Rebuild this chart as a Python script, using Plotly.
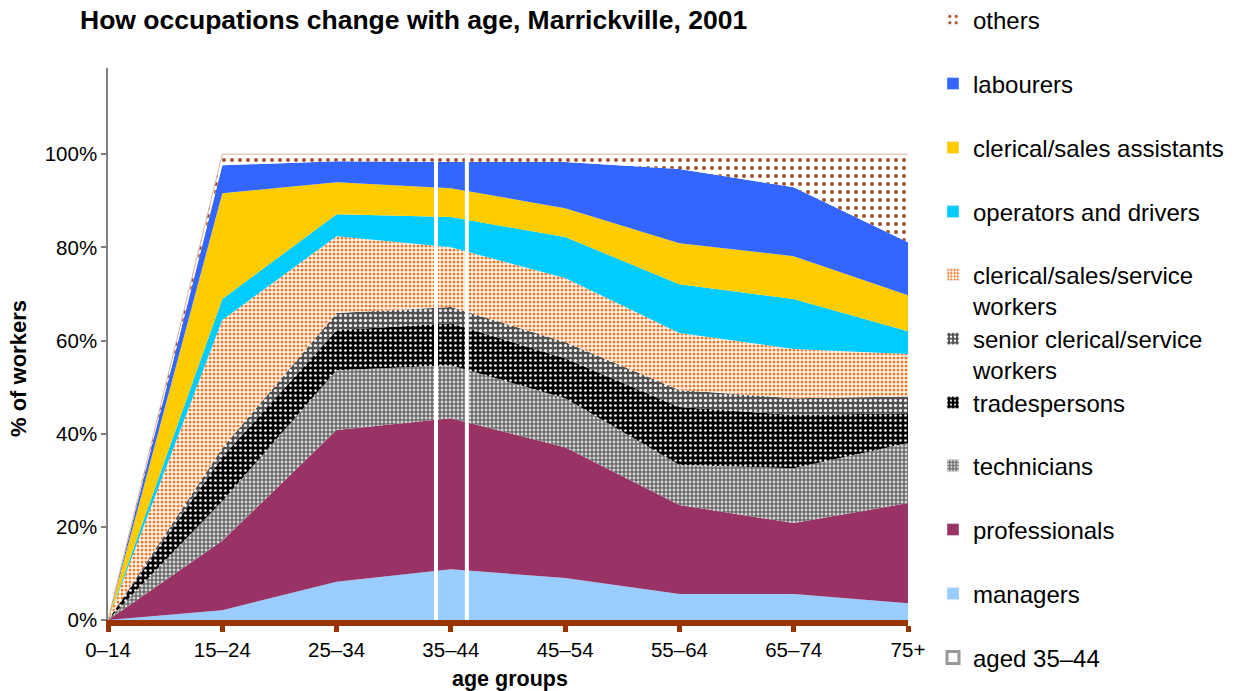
import plotly.graph_objects as go

# ---------------- data (percent of workers in each age group) ----------------
age_groups = ["0–14", "15–24", "25–34", "35–44", "45–54", "55–64", "65–74", "75+"]

managers = [0, 2.1, 8.2, 10.9, 9.0, 5.6, 5.6, 3.6]
professionals = [0, 14.9, 32.6, 32.4, 28.1, 19.1, 15.2, 21.5]
technicians = [0, 8.5, 12.8, 11.4, 10.5, 8.6, 11.8, 12.9]
tradespersons = [0, 9.5, 8.6, 9.0, 8.6, 12.4, 11.4, 6.4]
senior_clerical = [0, 1.9, 3.7, 3.5, 3.5, 3.7, 3.6, 3.6]
clerical_service = [0, 27.5, 16.5, 12.8, 13.7, 12.2, 10.6, 9.1]
operators = [0, 4.5, 4.7, 6.5, 8.8, 10.5, 10.7, 4.9]
clerical_assist = [0, 22.7, 6.9, 6.2, 6.2, 8.8, 9.2, 7.7]
labourers = [0, 6.0, 4.5, 5.6, 9.9, 15.9, 14.8, 11.4]
others = [0, 2.4, 1.5, 1.7, 1.7, 3.2, 7.1, 18.9]

y_tick_vals = [0, 20, 40, 60, 80, 100]
y_tick_text = ["0%", "20%", "40%", "60%", "80%", "100%"]
highlight_group = "35–44"

# ---------------- styles ----------------
FONT = "Liberation Sans, Arial, Helvetica, sans-serif"
W, H = 1234, 691
L, R, T, B = 108, 326, 68, 71

series = [
    # name, values, solid color, pattern dict or None, legend label
    ("managers", managers, "#99CCFF", None, "managers"),
    ("professionals", professionals, "#993366", None, "professionals"),
    ("technicians", technicians, "#888888",
     dict(shape=".", bgcolor="#6a6a6a", fgcolor="#d8d8d8", size=4, solidity=0.4), "technicians"),
    ("tradespersons", tradespersons, "#222222",
     dict(shape=".", bgcolor="#000000", fgcolor="#ffffff", size=5, solidity=0.22), "tradespersons"),
    ("senior clerical/service workers", senior_clerical, "#666666",
     dict(shape=".", bgcolor="#505050", fgcolor="#ffffff", size=5, solidity=0.3),
     "senior clerical/service<br>workers"),
    ("clerical/sales/service workers", clerical_service, "#FFB080",
     dict(shape=".", bgcolor="#ffffff", fgcolor="#FF7722", size=4, solidity=0.45),
     "clerical/sales/service<br>workers"),
    ("operators and drivers", operators, "#00CCFF", None, "operators and drivers"),
    ("clerical/sales assistants", clerical_assist, "#FFCC00", None, "clerical/sales assistants"),
    ("labourers", labourers, "#3366FF", None, "labourers"),
    ("others", others, "#ffffff",
     dict(shape=".", bgcolor="#ffffff", fgcolor="#A0502A", size=8, solidity=0.2), "others"),
]

xs = list(range(len(age_groups)))
fig = go.Figure()

for name, vals, col, pat, lab in series:
    kw = dict(x=xs, y=vals, name=name, mode="lines", stackgroup="one",
              showlegend=False, hoverinfo="skip")
    if name == "others":
        kw["line"] = dict(color="#D8B0A0", width=1)
    else:
        kw["line"] = dict(color=col, width=0)
    if pat:
        kw["fillpattern"] = dict(fillmode="replace", **pat)
        kw["fillcolor"] = pat["bgcolor"]
    else:
        kw["fillcolor"] = col
    fig.add_trace(go.Scatter(**kw))

# highlight lines around the 35-44 group
hi = age_groups.index(highlight_group)
for dx in (-0.13, 0.14):
    fig.add_shape(type="line", xref="x", yref="y", x0=hi + dx, x1=hi + dx,
                  y0=0, y1=100, line=dict(color="white", width=4), layer="above")

# ---------------- legend: one legend per entry for exact placement ----------------
LEG_FS = 24
legend_rows = [  # (label key, pixel y of first line centre, n lines)
    ("others", 20, 1), ("labourers", 84, 1), ("clerical/sales assistants", 148, 1),
    ("operators and drivers", 212, 1), ("clerical/sales/service workers", 275, 2),
    ("senior clerical/service workers", 339, 2), ("tradespersons", 403, 1),
    ("technicians", 466, 1), ("professionals", 530, 1), ("managers", 594, 1),
    ("aged", 658, 1),
]
lookup = {s[0]: s for s in series}
legend_x_px = 933
layout_legends = {}
for i, (key, py, nl) in enumerate(legend_rows):
    lname = "legend" if i == 0 else f"legend{i+1}"
    if key == "aged":
        marker = dict(color="white", line=dict(color="#999999", width=3))
        label = "aged " + highlight_group
    else:
        _, _, col, pat, lab = lookup[key]
        label = lab
        if pat:
            marker = dict(color=pat["bgcolor"],
                          pattern=dict(shape=pat["shape"], bgcolor=pat["bgcolor"],
                                       fgcolor=pat["fgcolor"], size=pat["size"],
                                       solidity=pat["solidity"], fillmode="replace"))
        else:
            marker = dict(color=col)
    fig.add_trace(go.Bar(x=[None], y=[None], name=label, marker=marker,
                         legend=lname, showlegend=True, hoverinfo="skip"))
    ymid = py + (nl - 1) * LEG_FS * 1.3 / 2
    layout_legends[lname] = dict(
        x=(legend_x_px - L) / (W - L - R), y=(H - B - ymid) / (H - T - B),
        xanchor="left", yanchor="middle", valign="top",
        bgcolor="rgba(0,0,0,0)", borderwidth=0,
        font=dict(family=FONT, size=LEG_FS, color="#000000"),
    )

fig.update_layout(**layout_legends)

fig.update_layout(
    width=W, height=H,
    margin=dict(l=L, r=R, t=T, b=B, pad=0, autoexpand=False),
    paper_bgcolor="white", plot_bgcolor="white",
    font=dict(family=FONT, size=20, color="#000000"),
    title=dict(text="How occupations change with age, Marrickville, 2001",
               x=80 / W, xref="container", xanchor="left",
               y=1 - 20 / H, yref="container", yanchor="middle",
               font=dict(family=FONT, size=26.5, weight="bold", color="#000000")),
    xaxis=dict(range=[0, len(age_groups) - 1], tickmode="array", tickvals=xs,
               ticktext=age_groups, showgrid=False, zeroline=False,
               showline=True, linecolor="#993300", linewidth=6,
               ticks="outside", tickcolor="#993300", tickwidth=5, ticklen=6,
               tickfont=dict(family=FONT, size=20.5)),
    yaxis=dict(range=[0, 118.5], tickmode="array", tickvals=y_tick_vals,
               ticktext=y_tick_text, showgrid=False, zeroline=False,
               showline=True, linecolor="#808080", linewidth=1.5,
               ticks="outside", tickcolor="#808080", tickwidth=1.5, ticklen=5,
               tickfont=dict(family=FONT, size=20.5)),
    showlegend=True,
    barmode="overlay",
)

fig.add_annotation(text="<b>% of workers</b>", xref="paper", yref="paper",
                   x=(18 - L) / (W - L - R), y=(H - B - 369) / (H - T - B),
                   textangle=-90, showarrow=False, xanchor="center", yanchor="middle",
                   font=dict(family=FONT, size=22))
fig.add_annotation(text="<b>age groups</b>", xref="paper", yref="paper",
                   x=(510 - L) / (W - L - R), y=(H - B - 679) / (H - T - B),
                   showarrow=False, xanchor="center", yanchor="middle",
                   font=dict(family=FONT, size=21.5))

fig.write_html("out.html",
               config={"displayModeBar": False},
               post_script="document.body.style.margin='0';"
                           "document.body.style.overflow='hidden';")
